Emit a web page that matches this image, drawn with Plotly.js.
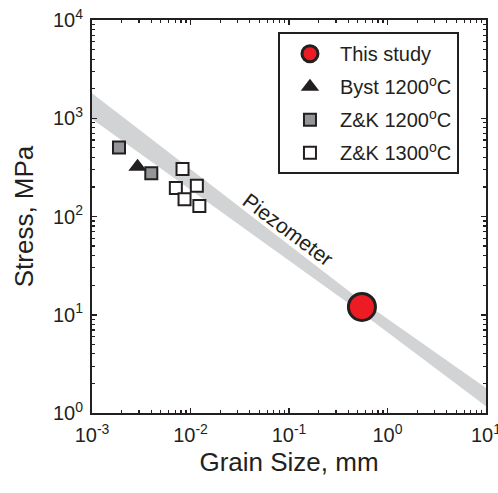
<!DOCTYPE html>
<html>
<head>
<meta charset="utf-8">
<script src="https://cdn.plot.ly/plotly-3.0.1.min.js"></script>
<style>html,body{margin:0;padding:0;background:#fff;}#chart{width:498px;height:493px;}</style>
</head>
<body>
<div id="chart"></div>
<script>
// Data
const thisStudyX = [0.55];
const thisStudyY = [12];

const bystX = [0.0029];
const bystY = [320];

const zk1200X = [0.00188, 0.0040];
const zk1200Y = [505, 275];

const zk1300X = [0.0083, 0.0071, 0.0116, 0.0087, 0.0123];
const zk1300Y = [305, 195, 205, 150, 128];

// Piezometer band (upper and lower bounds)
const bandX = [0.001, 0.5, 10];
const bandUpper = [1800, 14.8, 1.8];
const bandLower = [985, 11.2, 1.17];

const xTickVals = [0.001, 0.01, 0.1, 1, 10];
const xTickText = ['10<sup>-3</sup>', '10<sup>-2</sup>', '10<sup>-1</sup>', '10<sup>0</sup>', '10<sup>1</sup>'];
const yTickVals = [1, 10, 100, 1000, 10000];
const yTickText = ['10<sup>0</sup>', '10<sup>1</sup>', '10<sup>2</sup>', '10<sup>3</sup>', '10<sup>4</sup>'];

const ink = '#231f20';

function minorTicks(decades) {
  const out = [];
  for (let i = 0; i < decades.length - 1; i++) {
    for (let m = 2; m <= 9; m++) out.push(decades[i] * m);
  }
  return out;
}

const bandPolyX = bandX.concat(bandX.slice().reverse());
const bandPolyY = bandUpper.concat(bandLower.slice().reverse());

const traces = [
  {x: bandPolyX, y: bandPolyY, type: 'scatter', mode: 'lines', fill: 'toself',
   fillcolor: '#d1d3d4', line: {width: 0, color: '#d1d3d4'}, showlegend: false, hoverinfo: 'skip'},
  {x: zk1200X, y: zk1200Y, type: 'scatter', mode: 'markers', name: 'Z&K 1200<sup>o</sup>C',
   legendrank: 3, legendgroup: 'c',
   marker: {symbol: 'square', size: 12, color: '#939598', line: {color: ink, width: 2}}},
  {x: bystX, y: bystY, type: 'scatter', mode: 'markers', name: 'Byst 1200<sup>o</sup>C',
   legendrank: 2, legendgroup: 'b',
   marker: {symbol: 'triangle-up', size: 16, color: ink, line: {color: ink, width: 0}}},
  {x: zk1300X, y: zk1300Y, type: 'scatter', mode: 'markers', name: 'Z&K 1300<sup>o</sup>C',
   legendrank: 4, legendgroup: 'd',
   marker: {symbol: 'square', size: 12, color: '#ffffff', line: {color: ink, width: 2}}},
  {x: thisStudyX, y: thisStudyY, type: 'scatter', mode: 'markers', name: 'This study',
   legendrank: 1, legendgroup: 'a',
   marker: {symbol: 'circle', size: 27, color: '#ed1c24', line: {color: ink, width: 3}}}
];

const axisCommon = {
  type: 'log', showgrid: false, zeroline: false, showline: true, linecolor: ink, linewidth: 2,
  mirror: 'allticks', ticks: 'inside', ticklen: 5, tickwidth: 1.5, tickcolor: ink,
  tickfont: {family: 'Liberation Sans, Arial, sans-serif', size: 20, color: ink},
  tickmode: 'array', ticklabeloverflow: 'allow'
};

const layout = {
  width: 498, height: 493,
  margin: {l: 92, r: 12, t: 20, b: 80},
  paper_bgcolor: '#fff', plot_bgcolor: '#fff',
  font: {family: 'Liberation Sans, Arial, sans-serif', color: ink},
  xaxis: Object.assign({}, axisCommon, {
    range: [-3, 1], tickvals: xTickVals, ticktext: xTickText, ticklabelstandoff: 3,
    minor: {tickmode: 'array', tickvals: minorTicks(xTickVals), ticks: 'inside', ticklen: 3, tickwidth: 1.2, tickcolor: ink, showgrid: false},
    title: {text: 'Grain Size, mm', font: {size: 26, color: ink}, standoff: 8}
  }),
  yaxis: Object.assign({}, axisCommon, {
    range: [0, 4], tickvals: yTickVals, ticktext: yTickText, ticklabelstandoff: 3,
    minor: {tickmode: 'array', tickvals: minorTicks(yTickVals), ticks: 'inside', ticklen: 3, tickwidth: 1.2, tickcolor: ink, showgrid: false},
    title: {text: 'Stress, MPa', font: {size: 26, color: ink}, standoff: 12}
  }),
  legend: {
    x: 0.472, y: 0.969, xanchor: 'left', yanchor: 'top',
    bordercolor: ink, borderwidth: 2, bgcolor: '#fff',
    font: {size: 20, color: ink}, tracegroupgap: 4, itemsizing: 'trace', itemwidth: 50
  },
  annotations: [{
    x: Math.log10(0.098), y: Math.log10(74), xref: 'x', yref: 'y',
    text: 'Piezometer', showarrow: false, textangle: 36.7,
    font: {size: 21, color: ink}
  }]
};

Plotly.newPlot('chart', traces, layout, {displayModeBar: false, staticPlot: true});
</script>
</body>
</html>
